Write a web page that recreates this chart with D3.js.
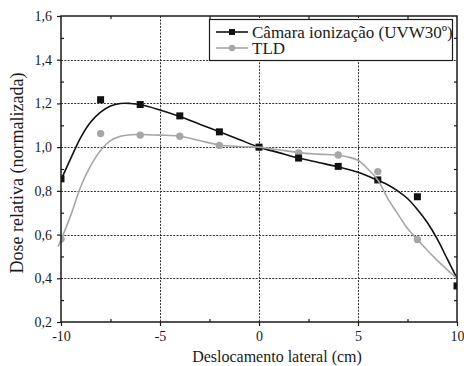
<!DOCTYPE html>
<html><head><meta charset="utf-8">
<script src="https://cdn.jsdelivr.net/npm/d3@7"></script>
<style>body{margin:0;background:#fff}svg{display:block}svg text{font-family:'Liberation Serif' !important}</style>
</head><body>
<script>
// Measured points
const camaraX = [-10,-8,-6,-4,-2,0,2,4,6,8,10];
const camaraY = [0.855,1.217,1.195,1.143,1.07,1.0,0.95,0.912,0.85,0.773,0.365];
const tldX = [-10,-8,-6,-4,-2,0,2,4,6,8];
const tldY = [0.58,1.062,1.055,1.05,1.008,1.0,0.973,0.964,0.888,0.577];
// Fitted curves
const camaraFitX = [-10,-9.5,-9,-8.5,-8,-7.5,-7,-6.5,-6,-5,-4,-3,-2,-1,0,1,2,3,4,5,6,6.5,7,7.5,8,8.5,9,9.5,10];
const camaraFitY = [0.85,0.95,1.045,1.115,1.16,1.188,1.2,1.2,1.195,1.17,1.14,1.105,1.07,1.035,1.0,0.975,0.95,0.93,0.91,0.885,0.848,0.828,0.8,0.765,0.715,0.655,0.58,0.49,0.4];
const tldFitX = [-10.15,-10,-9.5,-9,-8.5,-8,-7.5,-7,-6.5,-6,-5,-4,-3,-2,-1,0,1,2,3,4,4.5,5,5.5,6,6.5,7,7.5,8,8.5,9,9.5,10];
const tldFitY = [0.545,0.575,0.69,0.82,0.915,0.985,1.03,1.05,1.057,1.058,1.055,1.05,1.03,1.01,1.003,1.0,0.988,0.975,0.968,0.963,0.955,0.94,0.9,0.85,0.766,0.696,0.628,0.578,0.528,0.482,0.44,0.4];
const xTicks = [-10,-5,0,5,10];
const xMinor = [-7.5,-2.5,2.5,7.5];
const yTicks = [0.2,0.4,0.6,0.8,1.0,1.2,1.4,1.6];
const yMinor = [0.3,0.5,0.7,0.9,1.1,1.3,1.5];
const seriesNames = ["Câmara ionização (UVW30º)","TLD"];
const xLabel = "Deslocamento lateral (cm)";
const yLabel = "Dose relativa (normalizada)";

const FONT="'Liberation Serif'";
const INK="#1a1a1a";
const W=464,H=366,m={l:61,r:7,t:16,b:44};
const svg=d3.select("body").append("svg").attr("width",W).attr("height",H).attr("font-family",FONT);
const x=d3.scaleLinear().domain([-10,10]).range([m.l,W-m.r]);
const y=d3.scaleLinear().domain([0.2,1.6]).range([H-m.b,m.t]);
const fmt=d=>d3.format(".1f")(d).replace(".",",");
const txt=(sel,size)=>sel.attr("font-family",FONT).style("font-family",FONT).attr("font-size",size).attr("fill",INK);

svg.append("defs").append("clipPath").attr("id","c").append("rect")
  .attr("x",m.l).attr("y",m.t).attr("width",W-m.l-m.r).attr("height",H-m.t-m.b);

// grid
const g=svg.append("g").attr("stroke","#333").attr("stroke-width",1).attr("stroke-dasharray","2,1.3");
g.selectAll(".gx").data(xTicks.slice(1,-1)).join("line").attr("x1",d=>x(d)+0.5).attr("x2",d=>x(d)+0.5).attr("y1",m.t).attr("y2",H-m.b);
g.selectAll(".gy").data(yTicks.slice(1,-1)).join("line").attr("y1",d=>Math.round(y(d))+0.5).attr("y2",d=>Math.round(y(d))+0.5).attr("x1",m.l).attr("x2",W-m.r);

// axes
const ax=svg.append("g");
ax.append("g").attr("transform",`translate(0,${H-m.b})`).call(d3.axisBottom(x).tickValues(xTicks).tickSize(4).tickPadding(5).tickFormat(d=>d)).call(s=>s.select(".domain").remove());
ax.append("g").attr("transform",`translate(0,${H-m.b})`).call(d3.axisTop(x).tickValues(xMinor).tickSize(3).tickFormat("")).call(s=>s.select(".domain").remove());
ax.append("g").attr("transform",`translate(0,${m.t})`).call(d3.axisBottom(x).tickValues(xMinor).tickSize(3).tickFormat("")).call(s=>s.select(".domain").remove());
ax.append("g").attr("transform",`translate(${m.l},0)`).call(d3.axisLeft(y).tickValues(yTicks).tickSize(4).tickPadding(5).tickFormat(fmt)).call(s=>s.select(".domain").remove());
ax.append("g").attr("transform",`translate(${m.l},0)`).call(d3.axisRight(y).tickValues(yMinor).tickSize(3).tickFormat("")).call(s=>s.select(".domain").remove());
ax.append("g").attr("transform",`translate(${W-m.r},0)`).call(d3.axisLeft(y).tickValues(yMinor).tickSize(3).tickFormat("")).call(s=>s.select(".domain").remove());
ax.selectAll("g").attr("font-family",FONT);
txt(ax.selectAll("text"),14);
ax.selectAll("line").attr("stroke",INK).attr("stroke-width",1.2);

// curves
const plot=svg.append("g").attr("clip-path","url(#c)");
const line=d3.line().x(d=>x(d[0])).y(d=>y(d[1])).curve(d3.curveCatmullRom.alpha(0.5));
const tldFit=tldFitX.map((v,i)=>[v,tldFitY[i]]);
const camFit=camaraFitX.map((v,i)=>[v,camaraFitY[i]]);
svg.append("path").attr("d",line(tldFit)).attr("fill","none").attr("stroke","#a6a6a6").attr("stroke-width",1.6);
plot.append("path").attr("d",line(camFit)).attr("fill","none").attr("stroke","#111").attr("stroke-width",1.6);
plot.selectAll(".tp").data(tldX.map((v,i)=>[v,tldY[i]])).join("circle").attr("cx",d=>x(d[0])).attr("cy",d=>y(d[1])).attr("r",3.7).attr("fill","#a6a6a6");
plot.selectAll(".cp").data(camaraX.map((v,i)=>[v,camaraY[i]])).join("rect").attr("x",d=>x(d[0])-3.5).attr("y",d=>y(d[1])-3.5).attr("width",7).attr("height",7).attr("fill","#111");

// frame
svg.append("rect").attr("x",m.l).attr("y",m.t).attr("width",W-m.l-m.r).attr("height",H-m.t-m.b).attr("fill","none").attr("stroke",INK).attr("stroke-width",1.5);

// legend
const lg=svg.append("g");
lg.append("rect").attr("x",209.5).attr("y",19.5).attr("width",243).attr("height",41).attr("fill","#fff").attr("stroke",INK).attr("stroke-width",1.2);
const rows=[{c:"#111",sq:true,yy:32},{c:"#a6a6a6",sq:false,yy:48}];
rows.forEach((r,i)=>{
  lg.append("line").attr("x1",216).attr("x2",248).attr("y1",r.yy).attr("y2",r.yy).attr("stroke",r.c).attr("stroke-width",1.6);
  if(r.sq) lg.append("rect").attr("x",229).attr("y",r.yy-3).attr("width",6).attr("height",6).attr("fill",r.c);
  else lg.append("circle").attr("cx",232).attr("cy",r.yy).attr("r",3.2).attr("fill",r.c);
  txt(lg.append("text").attr("x",252).attr("y",r.yy+5.5),17).text(seriesNames[i]);
});

// labels
txt(svg.append("text").attr("x",(m.l+W-m.r)/2+18).attr("y",362).attr("text-anchor","middle"),16).text(xLabel);
txt(svg.append("text").attr("transform",`translate(23,173) rotate(-90)`).attr("text-anchor","middle"),18).text(yLabel);
</script>
</body></html>
